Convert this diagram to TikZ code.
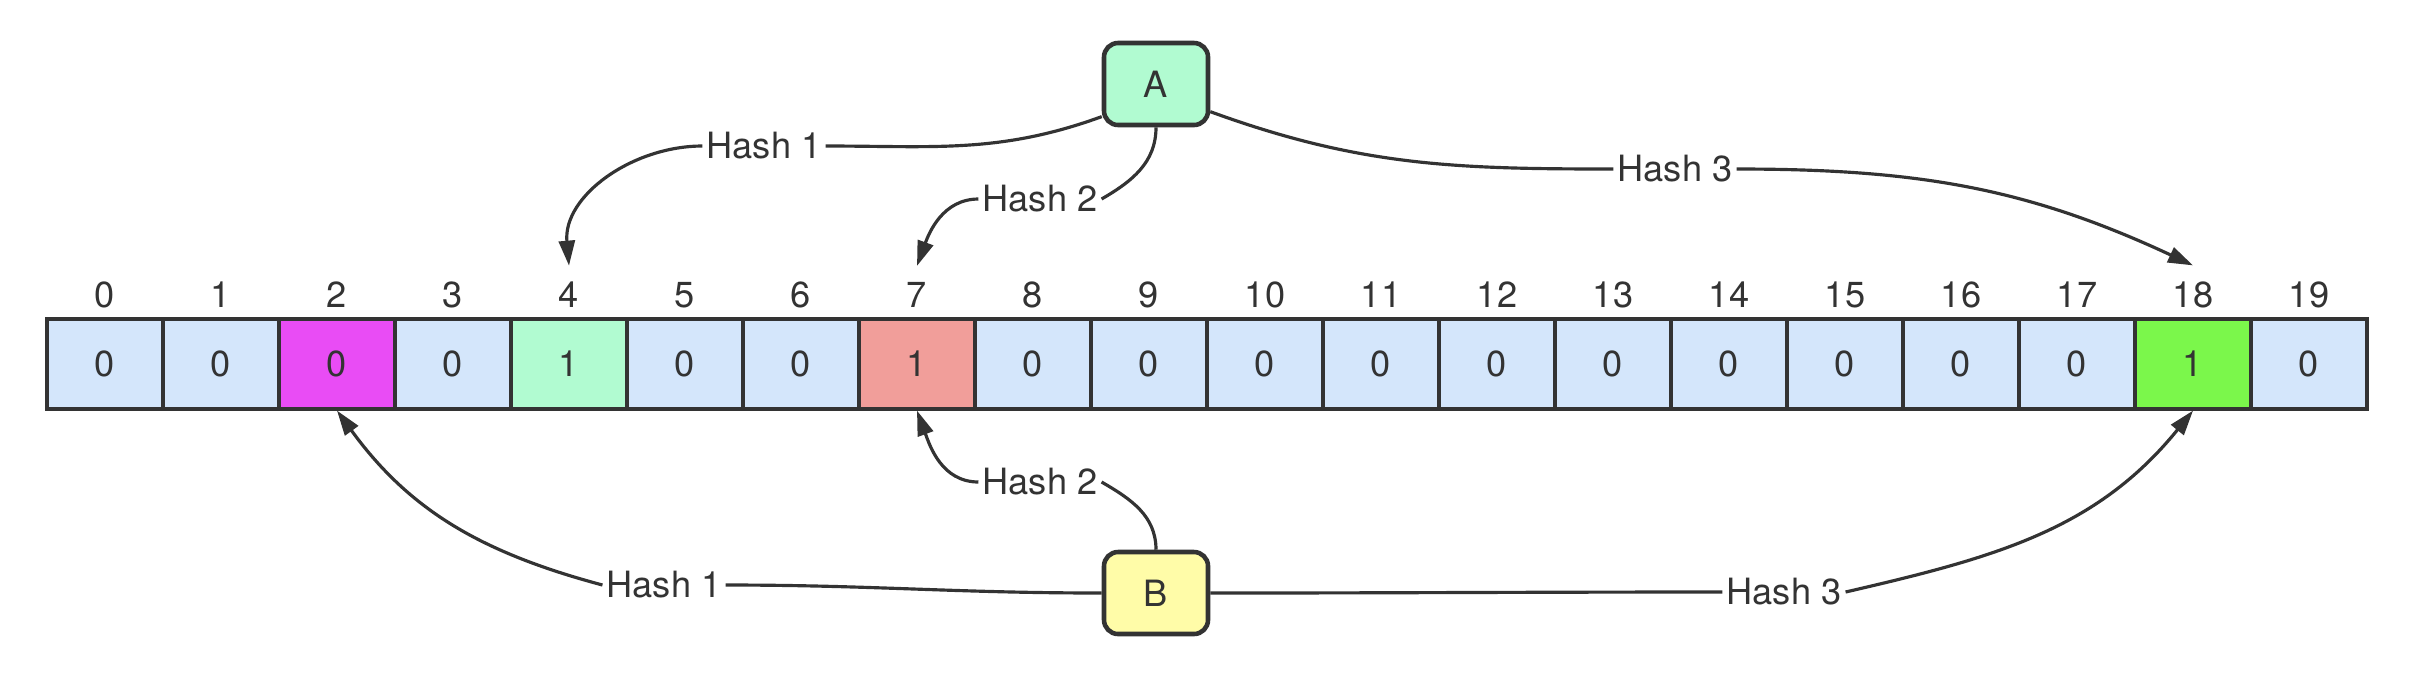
\documentclass[tikz,border=0pt]{standalone}
\usepackage{fontspec}
\setmainfont{TeX Gyre Heros}
\usetikzlibrary{arrows.meta}

\definecolor{cellblue}{HTML}{D4E6FB}
\definecolor{mint}{HTML}{B1FBD1}
\definecolor{orchid}{HTML}{E94CF5}
\definecolor{salmon}{HTML}{F19E9A}
\definecolor{lime}{HTML}{7BF74B}
\definecolor{paleyellow}{HTML}{FFFCA8}
\definecolor{ink}{HTML}{333333}

\begin{document}
\begin{tikzpicture}[font=\fontsize{10.3}{12}\selectfont,text=ink,
	cell/.style={draw=ink,line width=0.9pt,minimum width=1.16cm,minimum height=0.9cm,inner sep=0pt},
	index/.style={inner sep=4.5pt},
	key/.style={draw=ink,line width=1.3pt,rounded corners=4pt,minimum width=1.04cm,minimum height=0.82cm},
	hash/.style={fill=white,inner sep=1pt},
	link/.style={draw=ink,line width=0.9pt},
	arrow/.style={link,-{Triangle[length=0.25cm,width=0.16cm]}}]
	\useasboundingbox (0,0) rectangle (24.28,6.74);
	% the bit array
	\foreach \i/\v/\c in {0/0/cellblue,1/0/cellblue,2/0/orchid,3/0/cellblue,4/1/mint,
	                      5/0/cellblue,6/0/cellblue,7/1/salmon,8/0/cellblue,9/0/cellblue,
	                      10/0/cellblue,11/0/cellblue,12/0/cellblue,13/0/cellblue,14/0/cellblue,
	                      15/0/cellblue,16/0/cellblue,17/0/cellblue,18/1/lime,19/0/cellblue}{
		\node[cell,fill=\c] (c\i) at (1.05+\i*1.16,3.10) {\v};
		\node[index] (i\i) at (1.05+\i*1.16,3.79) {\i};
	}
	% elements
	\node[key,fill=mint] (A) at (11.56,5.90) {A};
	\node[key,fill=paleyellow] (B) at (11.56,0.81) {B};
	% hash labels
	\node[hash] (h1a) at (7.64,5.28) {Hash 1};
	\node[hash] (h2a) at (10.40,4.75) {Hash 2};
	\node[hash] (h3a) at (16.75,5.05) {Hash 3};
	\node[hash] (h2b) at (10.40,1.92) {Hash 2};
	\node[hash] (h1b) at (6.64,0.89) {Hash 1};
	\node[hash] (h3b) at (17.84,0.82) {Hash 3};
	% A
	\draw[link] (A.211) to[out=200,in=0] (h1a.east);
	\draw[arrow] (h1a.west) to[out=180,in=95] (i4.north);
	\draw[link] (A.south) to[out=-90,in=30] (h2a.east);
	\draw[arrow] (h2a.west) to[out=180,in=70] (i7.north);
	\draw[link] (A.-27) to[out=-20,in=180] (h3a.west);
	\draw[arrow] (h3a.east) to[out=0,in=155] (i18.north);
	% B
	\draw[link] (B.north) to[out=90,in=-30] (h2b.east);
	\draw[arrow] (h2b.west) to[out=180,in=-70] (c7.south);
	\draw[link] (B.west) to[out=180,in=0] (h1b.east);
	\draw[arrow] (h1b.west) to[out=165,in=-54] (c2.south);
	\draw[link] (B.east) to[out=0,in=180] (h3b.west);
	\draw[arrow] (h3b.east) to[out=13,in=-129] (c18.south);
\end{tikzpicture}
\end{document}
